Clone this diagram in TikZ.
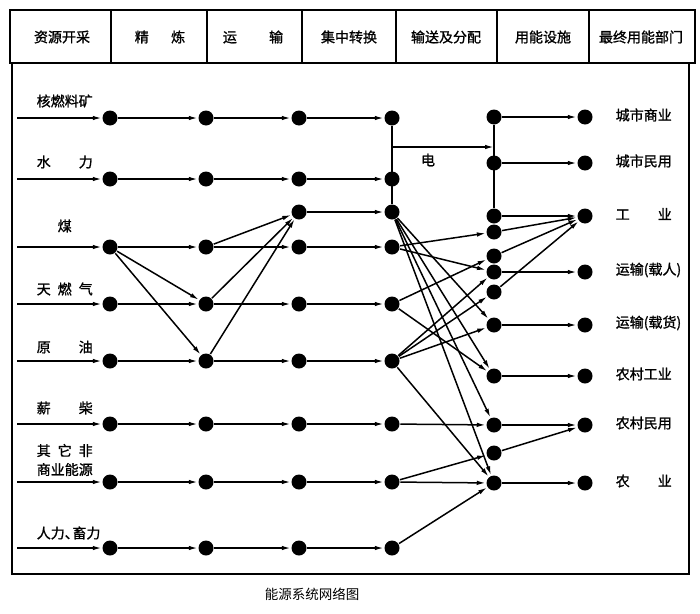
\documentclass[tikz,border=0pt]{standalone}
\usepackage{fontspec}
\setmainfont{Noto Sans CJK SC}
\newfontfamily\boldcjk{Noto Sans CJK SC}[FakeBold=1.2]
\usetikzlibrary{arrows.meta}
\begin{document}
\begin{tikzpicture}[x=1pt,y=-1pt,line width=1.5pt,
	every node/.style={inner sep=0pt,font=\boldcjk\fontsize{14}{19}\selectfont},
	dot/.style={circle,fill=black,minimum size=15pt},
	flow/.style={-{Latex[length=9pt,width=4.5pt]}}]
		\useasboundingbox (0,0) rectangle (700,613);
		% header
		\draw (10,10) rectangle (695,63);
		\foreach \x in {111,207,302,396,497,589}
			\draw (\x,10) -- (\x,63);
		\foreach \x/\t [count=\i] in {62/资源开采,160/精\hspace{1.6em}炼,253/运\hspace{2.3em}输,349/集中转换,446/输送及分配,543/用能设施,641/最终用能部门}
			\node (h\i) at (\x,37) {\t};
		% frame
		\draw (12,63) -- (12,574) -- (689,574) -- (689,63);
		\node[font=\rmfamily\fontsize{13.5}{16}\selectfont] (cap) at (312,594) {能源系统网络图};
		% sources
		\foreach \r/\y in {1/118,2/179,3/247,4/304,5/361,6/424,7/482,8/548} {
			\coordinate (s\r) at (17,\y);
			\foreach \c/\x in {1/110,2/206,3/299,4/392}
				\node[dot] (n\r\c) at (\x,\y) {};
			\draw[flow] (s\r) -- (n\r1);
			\draw[flow] (n\r1) -- (n\r2);
			\draw[flow] (n\r2) -- (n\r3);
			\draw[flow] (n\r3) -- (n\r4);
		}
		\node[anchor=west] (l1) at (36,101) {核燃料矿};
		\node[anchor=west] (l2) at (36,162) {水\hspace{2em}力};
		\node[anchor=west] (l3) at (57,226) {煤};
		\node[anchor=west] (l4) at (36,289) {天\hspace{.5em}燃\hspace{.5em}气};
		\node[anchor=west] (l5) at (36,347) {原\hspace{2em}油};
		\node[anchor=west] (l6) at (36,408) {薪\hspace{2em}柴};
		\node[anchor=west,align=left] (l7) at (36,460) {其\hspace{.5em}它\hspace{.5em}非\\商业能源};
		\node[anchor=west] (l8) at (36,533) {人力、\hspace{-.45em}畜力};
		% coal to gas and oil
		\node[dot] (x3) at (299,212) {};
		\node[dot] (x4) at (392,212) {};
		\draw[flow] (x3) -- (x4);
		\draw[flow] (n31) -- (n42);
		\draw[flow] (n31) -- (n52);
		\foreach \a in {n32,n42,n52}
			\draw[flow] (\a) -- (x3);
		% devices and end users
		\foreach \u/\y in {a/117,b/163,c/216,d/232,e/256,f/272,g/292,h/325,i/376,j/425,k/453,l/483}
			\node[dot] (u\u) at (494,\y) {};
		\foreach \n/\y/\t in {1/117/城市商业,2/163/城市民用,3/216/工\hspace{2em}业,4/272/运输(载人),5/325/运输(载货),6/376/农村工业,7/425/农村民用,8/483/农\hspace{2em}业} {
			\node[dot] (d\n) at (585,\y) {};
			\node[anchor=west] (t\n) at (615,\y-2) {\t};
		}
		% electricity
		\draw (n14) -- (x4);
		\draw (ua) -- (uc);
		\coordinate (e4) at (392,147);
		\coordinate (e5) at (494,147);
		\draw[flow] (e4) -- (e5);
		\node (el) at (428,160) {电};
		% distribution
		\foreach \a/\b in {n34/ud,n34/uf,n44/ue,n44/ui,n54/uf,n54/ug,n54/uh,n54/ul,x4/uh,x4/ui,x4/uj,x4/ul,n64/uj,n74/uk,n74/ul,n84/ul}
			\draw[flow] (\a) -- (\b);
		\foreach \a/\b in {ua/d1,ub/d2,uc/d3,ud/d3,ue/d3,ug/d3,uf/d4,uh/d5,ui/d6,uj/d7,uk/d7,ul/d8}
			\draw[flow] (\a) -- (\b);
\end{tikzpicture}
\end{document}
